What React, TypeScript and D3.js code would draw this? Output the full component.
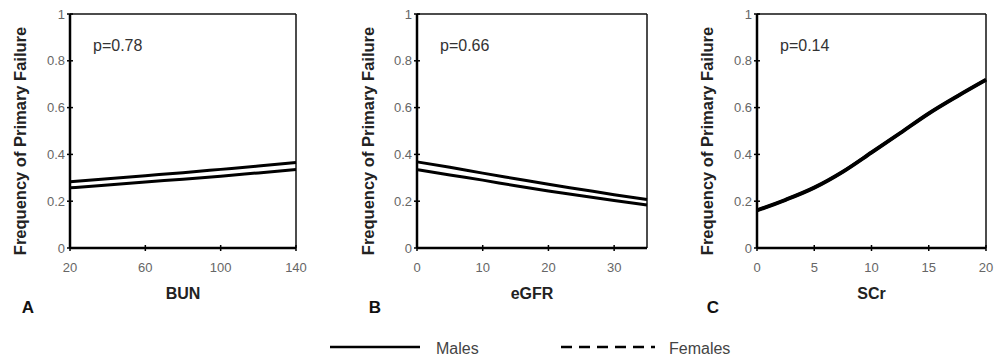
import React from "react";
import * as d3 from "d3";

const yTicks = [0, 0.2, 0.4, 0.6, 0.8, 1];

const bunX = [20, 40, 60, 80, 100, 120, 140];
const bunMales = [0.283, 0.296, 0.309, 0.322, 0.336, 0.35, 0.365];
const bunFemales = [0.257, 0.269, 0.282, 0.294, 0.307, 0.321, 0.335];
const bunTicks = [20, 60, 100, 140];

const egfrX = [0, 5, 10, 15, 20, 25, 30, 35];
const egfrMales = [0.368, 0.345, 0.32, 0.296, 0.272, 0.25, 0.228, 0.207];
const egfrFemales = [0.335, 0.312, 0.29, 0.266, 0.244, 0.223, 0.203, 0.184];
const egfrTicks = [0, 10, 20, 30];

const scrX = [0, 2.5, 5, 7.5, 10, 12.5, 15, 17.5, 20];
const scrMales = [0.16, 0.205, 0.257, 0.325, 0.407, 0.49, 0.574, 0.648, 0.718];
const scrFemales = [0.162, 0.207, 0.259, 0.327, 0.409, 0.492, 0.576, 0.65, 0.72];
const scrTicks = [0, 5, 10, 15, 20];

const yTitle = "Frequency of Primary Failure";
const FONT = "Arial, 'Liberation Sans', sans-serif";

type PanelProps = {
  left: number; right: number; top: number; bottom: number;
  xDomain: [number, number]; xTicks: number[];
  xs: number[]; males: number[]; females: number[];
  xTitle: string; letter: string; letterX: number; titleX: number; pText: string; lw: number;
};

function Panel(p: PanelProps) {
  const x = d3.scaleLinear().domain(p.xDomain).range([p.left, p.right]);
  const y = d3.scaleLinear().domain([0, 1]).range([p.bottom, p.top]);
  const line = d3.line<number>().x((_, i) => x(p.xs[i])).y((d) => y(d)).curve(d3.curveMonotoneX);
  const midX = (p.left + p.right) / 2;
  return (
    <g>
      <line x1={p.left} x2={p.right} y1={p.top} y2={p.top} stroke="#111" strokeWidth={1.5} />
      <line x1={p.right} x2={p.right} y1={p.top} y2={p.bottom} stroke="#111" strokeWidth={1.5} />
      <line x1={p.left} x2={p.left} y1={p.top} y2={p.bottom} stroke="#000" strokeWidth={2.5} />
      <line x1={p.left} x2={p.right} y1={p.bottom} y2={p.bottom} stroke="#000" strokeWidth={2.5} />
      {yTicks.map((t) => (
        <g key={"y" + t}>
          <line x1={p.left - 3} x2={p.left + 3} y1={y(t)} y2={y(t)} stroke="#000" strokeWidth={1.5} />
          <text x={p.left - 5} y={y(t)} dy="0.35em" textAnchor="end" fontSize={13} fill="#666" fontFamily={FONT}>
            {d3.format("")(t)}
          </text>
        </g>
      ))}
      {p.xTicks.map((t) => (
        <g key={"x" + t}>
          <line x1={x(t)} x2={x(t)} y1={p.bottom - 3} y2={p.bottom + 3} stroke="#000" strokeWidth={1.5} />
          <text x={x(t)} y={p.bottom + 19} dy="0.35em" textAnchor="middle" fontSize={13} fill="#666" fontFamily={FONT}>
            {t}
          </text>
        </g>
      ))}
      <path d={line(p.females) || ""} fill="none" stroke="#000" strokeWidth={p.lw} />
      <path d={line(p.males) || ""} fill="none" stroke="#000" strokeWidth={p.lw} />
      <text x={p.left + 23} y={p.top + 31} dy="0.35em" fontSize={16} fill="#333" fontFamily={FONT}>{p.pText}</text>
      <text transform={`translate(${p.titleX},${(p.top + p.bottom) / 2 + 10}) rotate(-90)`} textAnchor="middle" dy="0.35em"
        fontSize={16.5} fontWeight="bold" fill="#222" fontFamily={FONT}>{yTitle}</text>
      <text x={midX} y={p.bottom + 45} dy="0.35em" textAnchor="middle" fontSize={16} fontWeight="bold" fill="#222" fontFamily={FONT}>{p.xTitle}</text>
      <text x={p.letterX} y={p.bottom + 59} dy="0.35em" textAnchor="middle" fontSize={17} fontWeight="bold" fill="#111" fontFamily={FONT}>{p.letter}</text>
    </g>
  );
}

export default function App() {
  return (
    <svg width={1000} height={362} style={{ position: "absolute", left: 0, top: 0, background: "#fff" }}>
      <rect width={1000} height={362} fill="#fff" />
      <Panel left={70} right={296} top={14} bottom={248} xDomain={[20, 140]} xTicks={bunTicks} lw={3}
        xs={bunX} males={bunMales} females={bunFemales} xTitle="BUN" letter="A" letterX={28} titleX={20} pText="p=0.78" />
      <Panel left={417} right={647} top={14} bottom={248} xDomain={[0, 35]} xTicks={egfrTicks} lw={3}
        xs={egfrX} males={egfrMales} females={egfrFemales} xTitle="eGFR" letter="B" letterX={375} titleX={368} pText="p=0.66" />
      <Panel left={757} right={986} top={14} bottom={248} xDomain={[0, 20]} xTicks={scrTicks} lw={3.5}
        xs={scrX} males={scrMales} females={scrFemales} xTitle="SCr" letter="C" letterX={713} titleX={707} pText="p=0.14" />
      <line x1={330} x2={420} y1={347} y2={347} stroke="#000" strokeWidth={2.5} />
      <text x={436} y={348} dy="0.35em" fontSize={16} fill="#444" fontFamily={FONT}>Males</text>
      <line x1={561} x2={655} y1={347} y2={347} stroke="#000" strokeWidth={2.5} strokeDasharray="11,7" />
      <text x={669} y={348} dy="0.35em" fontSize={16} fill="#444" fontFamily={FONT}>Females</text>
    </svg>
  );
}
